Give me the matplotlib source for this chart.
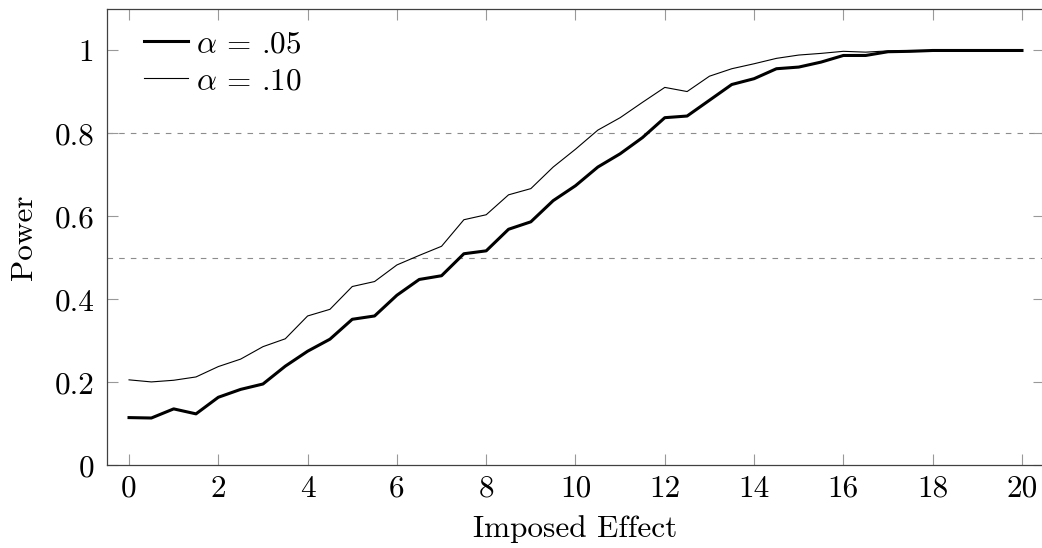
import numpy as np
import matplotlib
matplotlib.use("Agg")
import matplotlib.pyplot as plt

plt.rcParams['font.family'] = 'serif'
plt.rcParams['font.serif'] = ['cmr10']
plt.rcParams['mathtext.fontset'] = 'cm'
plt.rcParams['axes.formatter.use_mathtext'] = True

# imposed effect, 0..20 step 0.5
effect = [0, 0.5, 1, 1.5, 2, 2.5, 3, 3.5, 4, 4.5, 5, 5.5, 6, 6.5, 7, 7.5, 8, 8.5, 9, 9.5, 10,
          10.5, 11, 11.5, 12, 12.5, 13, 13.5, 14, 14.5, 15, 15.5, 16, 16.5, 17, 17.5, 18, 18.5,
          19, 19.5, 20]

power_05 = [0.115, 0.114, 0.136, 0.124, 0.164, 0.183, 0.196, 0.239, 0.275, 0.304, 0.352,
            0.360, 0.410, 0.448, 0.457, 0.510, 0.517, 0.569, 0.587, 0.638, 0.674,
            0.719, 0.751, 0.790, 0.838, 0.842, 0.880, 0.918, 0.932, 0.956, 0.960,
            0.972, 0.988, 0.988, 0.997, 0.998, 1.0, 1.0, 1.0, 1.0, 1.0]

power_10 = [0.206, 0.201, 0.205, 0.213, 0.238, 0.256, 0.286, 0.305, 0.360, 0.376, 0.431,
            0.443, 0.483, 0.506, 0.528, 0.592, 0.604, 0.652, 0.667, 0.719, 0.762,
            0.808, 0.838, 0.875, 0.911, 0.901, 0.938, 0.956, 0.968, 0.981, 0.989,
            0.993, 0.998, 0.996, 0.999, 1.0, 1.0, 1.0, 1.0, 1.0, 1.0]

xticks = [0, 2, 4, 6, 8, 10, 12, 14, 16, 18, 20]
xticklabels = ['0', '2', '4', '6', '8', '10', '12', '14', '16', '18', '20']
yticks = [0, 0.2, 0.4, 0.6, 0.8, 1]
yticklabels = ['0', '0.2', '0.4', '0.6', '0.8', '1']
ref_lines = [0.5, 0.8]
labels = [r'$\alpha$ = .05', r'$\alpha$ = .10']

fs = 22.5

fig = plt.figure(figsize=(10.42, 5.48), dpi=100)
ax = fig.add_axes([106.7 / 1042, 1 - 465.3 / 548, (1044.3 - 106.7) / 1042, (465.3 - 9) / 548])

for yv in ref_lines:
    ax.axhline(yv, color='0.55', lw=0.8, dashes=(5, 5.5), zorder=1)

ax.plot(effect, power_05, color='black', lw=2.2, label=labels[0], zorder=3)
ax.plot(effect, power_10, color='black', lw=0.8, label=labels[1], zorder=2)

ax.set_xlim(-0.5, 20.5)
ax.set_ylim(0, 1.1)
ax.set_xticks(xticks)
ax.set_xticklabels(xticklabels)
ax.set_yticks(yticks)
ax.set_yticklabels(yticklabels)

ax.tick_params(direction='in', length=8, width=0.8, color='0.6', labelsize=fs,
               top=True, right=True, pad=9)
ax.tick_params(axis='x', pad=7)
for sp in ax.spines.values():
    sp.set_color('0.25')
    sp.set_linewidth(0.9)

ax.set_xlabel('Imposed Effect', fontsize=fs, labelpad=9)
ax.set_ylabel('Power', fontsize=fs, labelpad=12)

ax.legend(loc='upper left', bbox_to_anchor=(0.04, 0.953), frameon=False, fontsize=fs,
          handlelength=1.4, handletextpad=0.25, labelspacing=0.28, borderpad=0,
          borderaxespad=0)

fig.savefig('out.png', dpi=100)
